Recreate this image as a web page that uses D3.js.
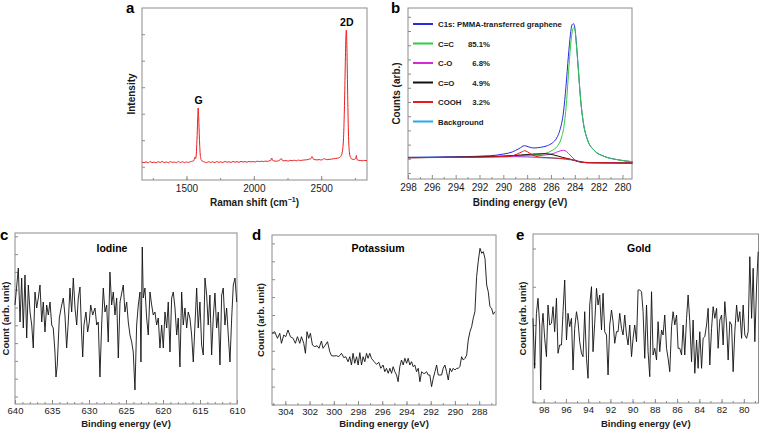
<!DOCTYPE html>
<html><head><meta charset="utf-8">
<script src="https://cdn.jsdelivr.net/npm/d3@7"></script>
<style>body{margin:0;background:#fff} svg{display:block} text{font-family:"Liberation Sans",Arial,Helvetica,sans-serif}</style>
</head><body><svg id="chart" width="759" height="435"></svg>
<script>
// ---------- Panel a: Raman ----------
const ramanShift = [1170,1185,1200,1215,1230,1245,1260,1275,1290,1305,1320,1335,1350,1365,1380,1395,1410,1425,1440,1455,1470,1485,1500,1515,1530,1545,1555,1563,1568,1573,1578,1583,1587,1591,1596,1602,1610,1620,1635,1650,1665,1680,1695,1710,1725,1740,1755,1770,1785,1800,1815,1830,1845,1860,1875,1890,1905,1920,1935,1950,1965,1980,1995,2010,2025,2040,2055,2070,2085,2100,2115,2125,2132,2140,2155,2170,2185,2195,2202,2210,2225,2240,2255,2270,2285,2300,2315,2330,2345,2360,2375,2390,2405,2415,2425,2432,2440,2455,2470,2485,2500,2512,2520,2530,2545,2560,2575,2590,2605,2620,2635,2645,2655,2665,2672,2678,2683,2687,2691,2696,2702,2710,2720,2730,2742,2750,2757,2761,2766,2775,2790,2805,2820,2840];
const ramanIntensity = [18,17.3,18.2,17,18.5,17.4,18,17.2,18.3,17.5,18.6,17.4,18.1,17.2,18.4,17.6,18,17.3,18.5,17.5,18.2,17.4,18,17.6,18.4,18.8,19.5,23,21.5,26,40,60,72,62,42,26,20,18.8,18,17.4,18.3,17.6,18.2,17.4,18.4,17.7,18.1,17.5,18.6,17.8,18.2,17.6,18.5,17.8,18.3,17.7,18.6,18,18.4,17.8,18.6,18.1,18.5,18,18.9,18.3,18.8,18.4,18.9,18.6,19.2,19.5,22,19.6,19,18.8,19.4,20.2,21.5,20,19.2,19.4,18.9,19.6,19.3,19.8,19.2,19.9,19.5,19.8,20,20.2,20.6,21,21.5,23.5,21.2,20.3,20.1,20.4,20,20.5,21.5,20.8,20.4,20.6,20.9,21.2,21.4,21.8,22.5,23.5,27,40,70,110,142,150,132,90,48,27,22,20.8,20.5,21,21.5,24.5,20.5,19.8,19.5,19.2,19.6,19.3];
const ramanTicks = [1500, 2000, 2500];

// ---------- Panel b: C1s XPS ----------
const c1sEnergy   = [298,293.6,291.08,289.95,289.25,288.69,288.22,287.85,287.43,286.87,286.31,285.89,285.52,285.24,284.96,284.74,284.54,284.37,284.23,284.12,284.01,283.87,283.70,283.51,283.28,282.94,282.38,281.54,280.42,279.16];
const c1sTotal    = [21.7,22.3,23.3,25,27,30.3,33.3,32,31,31.7,33.3,36,41,49.3,66,92.7,122.7,144.3,154.3,155.3,152,136,109.3,79.3,56,39.3,28.7,22.7,19.3,17.3];
const ccEnergy    = [298,291.92,289.11,287.71,286.59,285.89,285.47,285.13,284.91,284.68,284.49,284.32,284.18,284.10,283.98,283.87,283.70,283.51,283.28,282.94,282.38,281.54,280.42,279.16];
const ccCounts    = [21.3,22,23,24,25.3,28.7,32.7,41,52.7,79.3,112.7,137.7,149.3,151,148.7,134.3,108.7,79.3,56,39.3,28.7,22.7,19.3,17.3];
const coEnergy    = [298,289.11,287.15,286.31,285.75,285.33,284.96,284.68,284.40,284.07,283.65,282.94,279.16];
const coCounts    = [21.3,22.7,23.3,24.3,25.7,27.7,28.7,27.3,24,20,17.3,16.3,16];
const cdoEnergy   = [298,290.51,288.55,287.43,286.45,285.75,285.05,284.35,283.65,282.94,279.16];
const cdoCounts   = [21.3,22.7,24,25,25.3,24,21.7,19.7,17.3,16.3,16];
const coohEnergy  = [298,289.67,288.83,288.41,288.22,287.99,287.57,287.01,285.75,284.35,283.65,282.94,279.16];
const coohCounts  = [21.3,22.3,25,27.3,28.3,27.3,24,22,21,19.7,17.3,16.3,16];
const bgEnergy    = [298,289.11,286.87,285.19,284.07,283.22,282.38,279.16];
const bgCounts    = [21.5,22.3,21.3,20.3,18.7,17,16.2,16];
const c1sTicks = [298,296,294,292,290,288,286,284,282,280];
const legendNames = ["C1s: PMMA-transferred graphene","C=C","C-O","C=O","COOH","Background"];
const legendPct   = ["","85.1%","6.8%","4.9%","3.2%",""];
const legendColors= ["#2a2ae0","#2ecc40","#d62ad6","#111111","#f01818","#29a8e8"];

// ---------- Panel c: Iodine ----------
const iodineEnergy = [640.00,639.55,639.32,639.10,638.88,638.65,638.42,638.20,637.97,637.74,637.53,637.30,637.07,636.85,636.62,636.39,636.18,635.95,635.72,635.50,635.27,635.04,634.83,634.60,634.46,634.29,634.01,633.69,633.47,633.25,633.02,632.80,632.57,632.34,632.12,631.89,631.66,631.45,631.22,630.99,630.85,630.68,630.41,630.18,629.96,629.77,629.50,629.19,628.96,628.75,628.52,628.29,628.07,627.84,627.61,627.40,627.17,626.94,626.72,626.49,626.26,626.04,625.81,625.37,625.14,624.91,624.69,624.46,624.23,624.02,623.79,623.56,623.34,623.11,622.98,622.80,622.67,622.44,622.21,621.99,621.76,621.53,621.32,621.09,620.86,620.64,620.41,620.18,619.96,619.73,619.50,619.29,619.06,618.83,618.61,618.38,618.15,617.94,617.71,617.48,617.26,617.03,616.80,616.59,616.36,616.13,615.91,615.68,615.45,615.24,615.01,614.78,614.56,614.33,614.10,613.89,613.66,613.43,613.21,612.98,612.75,612.53,612.30,612.07,611.86,611.63,611.40,611.18,610.95,610.72,610.50,610.27,610.04];
const iodineCount  = [99,136,82,126,76,129,66,119,92,79,56,112,96,106,119,82,102,72,99,89,102,79,76,52,27,39,86,99,106,89,56,82,116,92,126,96,79,106,117,69,47,79,92,72,82,99,89,96,79,82,27,79,116,92,99,62,132,99,112,89,106,46,102,119,92,102,82,69,62,52,14,79,99,112,42,157,106,116,86,69,112,99,89,92,79,86,56,79,56,92,76,102,52,106,112,96,69,86,37,112,79,96,76,92,86,69,42,79,116,76,102,59,49,126,109,79,109,49,86,111,76,92,39,109,116,79,96,69,42,86,119,126,102];
const iodineTicks = [640,635,630,625,620,615,610];

// ---------- Panel d: Potassium ----------
const potEnergy = [305.10,304.88,304.65,304.46,304.32,304.13,303.97,303.78,303.58,303.36,303.17,303.00,302.81,302.67,302.48,302.34,302.21,302.07,301.93,301.76,301.57,301.38,301.22,301.02,300.89,300.69,300.52,300.33,300.19,299.98,299.78,299.59,299.36,299.17,299.01,298.82,298.68,298.54,298.41,298.27,298.12,297.99,297.85,297.71,297.58,297.44,297.30,297.17,297.03,296.89,296.67,296.47,296.28,296.12,295.93,295.79,295.65,295.51,295.37,295.23,295.10,294.96,294.82,294.69,294.55,294.41,294.27,294.13,293.99,293.86,293.72,293.58,293.45,293.31,293.17,293.03,292.89,292.75,292.62,292.48,292.34,292.21,292.07,291.93,291.79,291.65,291.51,291.38,291.24,291.10,290.97,290.83,290.69,290.55,290.41,290.27,290.14,290.00,289.86,289.73,289.59,289.45,289.31,289.17,289.03,288.90,288.76,288.62,288.49,288.35,288.21,288.08,287.93,287.79,287.66,287.52,287.38,287.25,287.11,286.97,286.84,286.70];
const potCount  = [71.7,73.3,66.7,71.7,61.7,70,68.3,75,68.3,66.7,61.7,68.3,61.7,68.3,61.7,51.7,73.3,66.7,71.7,60,58.3,59.3,56.7,64,56.7,60,63.3,53.3,49.3,49,49.3,48.3,51.7,47.3,48.3,43.3,48.3,40,51.7,41.7,48.3,40,52.3,40,48.3,43.3,51.7,46.7,51.7,46.7,43.3,40.7,42.7,36.7,40,33.3,36.7,31.7,36.7,31.7,38.3,33.3,30,23.3,38.3,45,40,46.7,41.7,46.7,40,43.3,38.3,40,33.3,36.7,23.3,33.3,31.7,31.7,33.3,30,30,18.3,26.7,33.3,40,30,30,30,36.7,40,33.3,25,36.7,33.3,36.7,35,36.7,36.7,38.3,48.3,45,46.7,50,65,73.3,78.3,86.7,93.3,128.3,143.3,156.7,151.7,153.3,146.7,120,113.3,98.3,96.7,90.7,93.3];
const potTicks = [304,302,300,298,296,294,292,290,288];

// ---------- Panel e: Gold ----------
const goldEnergy = [98.96,98.81,98.65,98.51,98.36,98.27,98.15,98.06,97.91,97.75,97.61,97.46,97.30,97.16,97.01,96.85,96.71,96.56,96.40,96.26,96.11,95.95,95.81,95.66,95.50,95.36,95.21,95.05,94.91,94.76,94.60,94.46,94.31,94.15,94.01,93.86,93.70,93.56,93.41,93.25,93.11,92.96,92.80,92.66,92.51,92.35,92.21,92.06,91.90,91.76,91.61,91.45,91.31,91.16,91.00,90.86,90.71,90.55,90.41,90.26,90.10,89.96,89.81,89.65,89.51,89.36,89.20,89.06,88.91,88.75,88.61,88.46,88.30,88.16,88.01,87.85,87.71,87.56,87.40,87.26,87.11,86.95,86.81,86.66,86.50,86.36,86.21,86.05,85.91,85.76,85.60,85.46,85.31,85.15,85.01,84.86,84.70,84.56,84.41,84.25,84.11,83.96,83.80,83.66,83.51,83.35,83.21,83.06,82.90,82.76,82.61,82.45,82.31,82.16,82.00,81.86,81.71,81.55,81.41,81.26,81.10,80.96,80.81,80.65,80.51,80.36,80.20,80.06,79.91,79.75,79.61,79.46,79.30,79.16,79.01,78.85,78.71];
const goldCount  = [84.7,34.7,89.7,104.7,78,13,78,89.7,64.7,46.3,98,78,79.7,96.3,71.3,104.7,49.7,58,58,91.3,123,63,89.7,76.3,84.7,33,74.7,91.3,81.3,61.3,49.7,46.3,91.3,44.7,24.7,98,116.3,51.3,79.7,114.7,98,108,73,109.7,71.3,68,28,78,93,81.3,59.7,71.3,71.3,89.7,74.7,68,88,68,58,78,46.3,64.7,78,61.3,113,113,111.3,91.3,44.7,98,51.3,26.3,111.3,48,54.7,43,81.3,51.3,73,68,88,54.7,44.7,31.3,76.3,91.3,78,88,54.7,54.7,48,78,48,84.7,108,81.3,41.3,83,29.7,63,34.7,71.3,34.7,64.7,66.3,78,94.7,38,74.7,96.3,84.7,94.7,54.7,83,88,58,101.3,78,43,81.3,78,31.3,71.3,98,81.3,91.3,64.7,98,68,64.7,71.3,146.3,84.7,134.7,61.3,118,151.3];
const goldTicks = [98,96,94,92,90,88,86,84,82,80];

// ---------- drawing ----------
const svg = d3.select("#chart");
const FRAME = "#8c8c8c", TXT = "#1a1a1a";

function panel(o) {
  const g = svg.append("g");
  const x = d3.scaleLinear().domain(o.xDomain).range([o.left, o.right]);
  const y = d3.scaleLinear().domain(o.yDomain).range([o.bottom, o.top]);
  if (o.xMinor) {
    g.append("g").attr("transform", `translate(0,${o.bottom})`)
      .call(d3.axisBottom(x).tickValues(o.xMinor).tickSize(-2).tickFormat(""))
      .call(s => s.select(".domain").remove())
      .call(s => s.selectAll("line").attr("stroke", FRAME));
  }
  g.append("g").attr("transform", `translate(0,${o.bottom})`)
    .call(d3.axisBottom(x).tickValues(o.xTicks).tickSize(-4).tickPadding(o.tickPad).tickFormat(d3.format("d")))
    .call(s => s.select(".domain").remove())
    .call(s => s.selectAll("line").attr("stroke", FRAME))
    .call(s => s.selectAll("text").attr("fill", TXT).style("font-size", o.tickFont + "px"));
  g.append("g").attr("transform", `translate(${o.left},0)`)
    .call(d3.axisLeft(y).tickValues(o.yTicks).tickSize(-3).tickFormat(""))
    .call(s => s.select(".domain").remove())
    .call(s => s.selectAll("line").attr("stroke", FRAME));
  g.append("rect").attr("x", o.left).attr("y", o.top)
    .attr("width", o.right - o.left).attr("height", o.bottom - o.top)
    .attr("fill", "none").attr("stroke", FRAME).attr("stroke-width", 1);
  const xt = g.append("text").attr("x", (o.left + o.right) / 2).attr("y", o.bottom + o.titleOff)
    .attr("text-anchor", "middle").attr("fill", TXT).style("font-size", o.titleFont + "px").style("font-weight", "bold");
  if (o.xTitleSup) {
    xt.append("tspan").text(o.xTitle);
    xt.append("tspan").text(o.xTitleSup).attr("dy", -4).style("font-size", (o.titleFont * 0.7) + "px");
    xt.append("tspan").text(")").attr("dy", 4);
  } else xt.text(o.xTitle);
  g.append("text").attr("transform", `translate(${o.yTitleX},${(o.top + o.bottom) / 2}) rotate(-90)`)
    .attr("text-anchor", "middle").attr("fill", TXT).style("font-size", o.titleFont + "px").style("font-weight", "bold")
    .text(o.yTitle);
  g.append("text").attr("x", o.letterX).attr("y", o.letterY).attr("fill", "#000")
    .style("font-size", "15px").style("font-weight", "bold").text(o.letter);
  return {g, x, y};
}
function drawLine(p, xs, ys, color, curve, w) {
  const pts = xs.map((d, i) => [d, ys[i]]);
  p.g.append("path").datum(pts)
    .attr("d", d3.line().x(d => p.x(d[0])).y(d => p.y(d[1])).curve(curve || d3.curveLinear))
    .attr("fill", "none").attr("stroke", color).attr("stroke-width", w || 1).attr("stroke-linejoin", "round");
}

// Panel a
const pa = panel({left:142, right:367, top:8, bottom:180, xDomain:[1170,2840], yDomain:[0,172],
  xTicks: ramanTicks, xMinor: d3.range(1250, 2800, 250), yTicks: d3.range(13.3, 172, 26.5),
  tickPad:5, tickFont:10, titleOff:26, titleFont:10, xTitle:"Raman shift (cm", xTitleSup:"\u22121",
  yTitle:"Intensity", yTitleX:135, letter:"a", letterX:126, letterY:13});
drawLine(pa, ramanShift, ramanIntensity, "#ee1c1c", d3.curveMonotoneX, 1);
pa.g.append("text").attr("x", pa.x(1590)).attr("y", pa.y(76)).attr("text-anchor","middle")
  .style("font-size","10.5px").style("font-weight","bold").text("G");
pa.g.append("text").attr("x", pa.x(2690)).attr("y", pa.y(154)).attr("text-anchor","middle")
  .style("font-size","10.5px").style("font-weight","bold").text("2D");

// Panel b
const pb = panel({left:408, right:632, top:8, bottom:179, xDomain:[298,279.2], yDomain:[0,171],
  xTicks: c1sTicks, xMinor: d3.range(297, 279, -2), yTicks: d3.range(6, 171, 14.2),
  tickPad:5, tickFont:10, titleOff:27, titleFont:10, xTitle:"Binding energy (eV)",
  yTitle:"Counts (arb.)", yTitleX:400, letter:"b", letterX:391, letterY:13});
const cm = d3.curveMonotoneX;
drawLine(pb, bgEnergy, bgCounts, legendColors[5], cm);
drawLine(pb, c1sEnergy, c1sTotal, legendColors[0], cm);
drawLine(pb, ccEnergy, ccCounts, legendColors[1], cm);
drawLine(pb, coEnergy, coCounts, legendColors[2], cm);
drawLine(pb, cdoEnergy, cdoCounts, legendColors[3], cm);
drawLine(pb, coohEnergy, coohCounts, legendColors[4], cm);
legendNames.forEach((n, i) => {
  const yy = 24 + i * 19.5;
  pb.g.append("line").attr("x1", 413).attr("x2", 433).attr("y1", yy).attr("y2", yy)
    .attr("stroke", legendColors[i]).attr("stroke-width", 2);
  pb.g.append("text").attr("x", 438).attr("y", yy + 3).style("font-size", "7.8px").style("font-weight", "bold")
    .attr("fill", TXT).text(n);
  if (legendPct[i]) pb.g.append("text").attr("x", 490).attr("y", yy + 3).attr("text-anchor", "end")
    .style("font-size", "7.8px").style("font-weight", "bold").attr("fill", TXT).text(legendPct[i]);
});

// Panel c
const pc = panel({left:15, right:237, top:233, bottom:404, xDomain:[640,610], yDomain:[0,171],
  xTicks: iodineTicks, xMinor: d3.range(639, 610, -1), yTicks: d3.range(7.5, 171, 17.8),
  tickPad:3, tickFont:9.5, titleOff:23, titleFont:9.5, xTitle:"Binding energy (eV)",
  yTitle:"Count (arb. unit)", yTitleX:9, letter:"c", letterX:0, letterY:240});
drawLine(pc, iodineEnergy, iodineCount, "#111", d3.curveLinear, 0.9);
pc.g.append("text").attr("x", 112).attr("y", 252).attr("text-anchor","middle")
  .style("font-size","10.5px").style("font-weight","bold").text("Iodine");

// Panel d
const pd = panel({left:272, right:496, top:235, bottom:405, xDomain:[305.1,286.61], yDomain:[0,170],
  xTicks: potTicks, xMinor: d3.range(305, 286.6, -1), yTicks: d3.range(0.5, 170, 17.9),
  tickPad:3, tickFont:9.5, titleOff:22, titleFont:9.5, xTitle:"Binding energy (eV)",
  yTitle:"Count (arb. unit)", yTitleX:264, letter:"d", letterX:252, letterY:240});
drawLine(pd, potEnergy, potCount, "#111", d3.curveLinear, 0.9);
pd.g.append("text").attr("x", 378).attr("y", 252).attr("text-anchor","middle")
  .style("font-size","10.5px").style("font-weight","bold").text("Potassium");

// Panel e
const pe = panel({left:533, right:758.5, top:234, bottom:403, xDomain:[98.96,78.68], yDomain:[0,169],
  xTicks: goldTicks, xMinor: d3.range(99, 78.6, -1), yTicks: d3.range(1.3, 169, 38.3),
  tickPad:3, tickFont:9.5, titleOff:24, titleFont:9.5, xTitle:"Binding energy (eV)",
  yTitle:"Count (arb. unit)", yTitleX:526, letter:"e", letterX:516, letterY:240});
drawLine(pe, goldEnergy, goldCount, "#111", d3.curveLinear, 0.9);
pe.g.append("text").attr("x", 639).attr("y", 252).attr("text-anchor","middle")
  .style("font-size","10.5px").style("font-weight","bold").text("Gold");
</script></body></html>
